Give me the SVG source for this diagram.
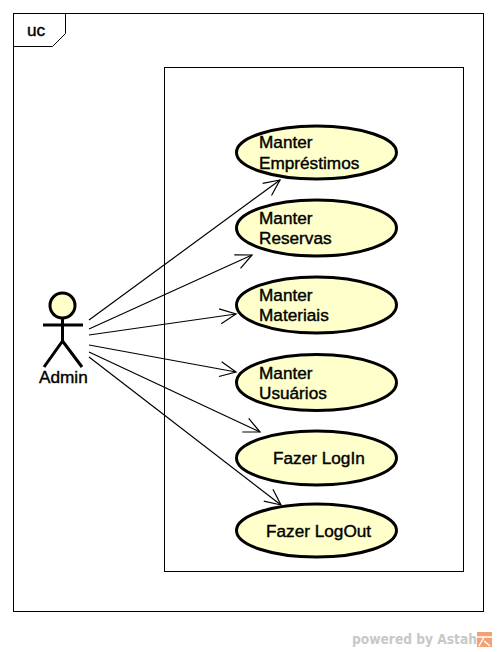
<svg xmlns="http://www.w3.org/2000/svg" width="497" height="652" viewBox="0 0 497 652">
<style>
text{font-family:"Liberation Sans",Arial,sans-serif;font-size:17.200px;font-weight:400;fill:#000;stroke:#000;stroke-width:.4px}
.f{fill:none;stroke:#000;stroke-width:1}
.uc{fill:#ffffcc;stroke:#000;stroke-width:3}
.a{fill:none;stroke:#000;stroke-width:3}
.c{stroke:#000;stroke-width:1.200;fill:none;marker-end:url(#o)}
</style>
<defs>
<marker id="o" markerUnits="userSpaceOnUse" markerWidth="24" markerHeight="24" refX="19" refY="12" orient="auto" viewBox="0 0 24 24">
<path d="M3 4.500L19 12L3 19.500" fill="none" stroke="#000" stroke-width="1.200"/>
</marker>
</defs>
<rect width="497" height="652" fill="#fff"/>
<g id="frame">
<rect class="f" x="13.500" y="13.500" width="470" height="598"/>
<path class="f" d="M13.500 46.500H52.500L65.500 33.500V13.500"/>
<text x="27" y="36">uc</text>
</g>
<g id="boundary"><rect class="f" x="164.500" y="67.500" width="299" height="504"/></g>
<g id="connectors">
<path class="c" d="M89 320L280 180"/>
<path class="c" d="M89 329L252 255"/>
<path class="c" d="M89 335L236 314"/>
<path class="c" d="M89 345L236 372"/>
<path class="c" d="M89 352L260 432"/>
<path class="c" d="M89 357L281 505"/>
</g>
<g id="admin">
<circle cx="62.500" cy="305.500" r="12.500" class="uc"/>
<path class="a" d="M43 325H83M62.500 318V341L44 367M62.500 341L82 367"/>
<text x="39" y="383">Admin</text>
</g>
<g id="uc-emprestimos"><ellipse class="uc" cx="316.500" cy="152.500" rx="80" ry="26.500"/>
<text x="259" y="148">Manter</text><text x="259" y="169">Empréstimos</text></g>
<g id="uc-reservas"><ellipse class="uc" cx="316.500" cy="228" rx="80" ry="28"/>
<text x="259" y="224">Manter</text><text x="259" y="244">Reservas</text></g>
<g id="uc-materiais"><ellipse class="uc" cx="316.500" cy="305" rx="80" ry="28"/>
<text x="259" y="301">Manter</text><text x="259" y="321">Materiais</text></g>
<g id="uc-usuarios"><ellipse class="uc" cx="316.500" cy="382.500" rx="80" ry="28"/>
<text x="259" y="379">Manter</text><text x="259" y="399">Usuários</text></g>
<g id="uc-login"><ellipse class="uc" cx="316.500" cy="458" rx="80" ry="27"/>
<text x="273" y="464">Fazer LogIn</text></g>
<g id="uc-logout"><ellipse class="uc" cx="316.500" cy="530.500" rx="80" ry="26.500"/>
<text x="266" y="537">Fazer LogOut</text></g>
<g id="watermark">
<text x="352" y="644" textLength="125" lengthAdjust="spacingAndGlyphs" style="font-family:'DejaVu Sans',sans-serif;font-size:14px;font-weight:700;fill:#c8c8c8;stroke:none">powered by Astah</text>
<rect x="477" y="632" width="15" height="15" fill="#f4a070"/>
<path d="M477 637H492M484 637L479 646M484 641L490 646" fill="none" stroke="#fff" stroke-width="1.500"/>
</g>
</svg>
